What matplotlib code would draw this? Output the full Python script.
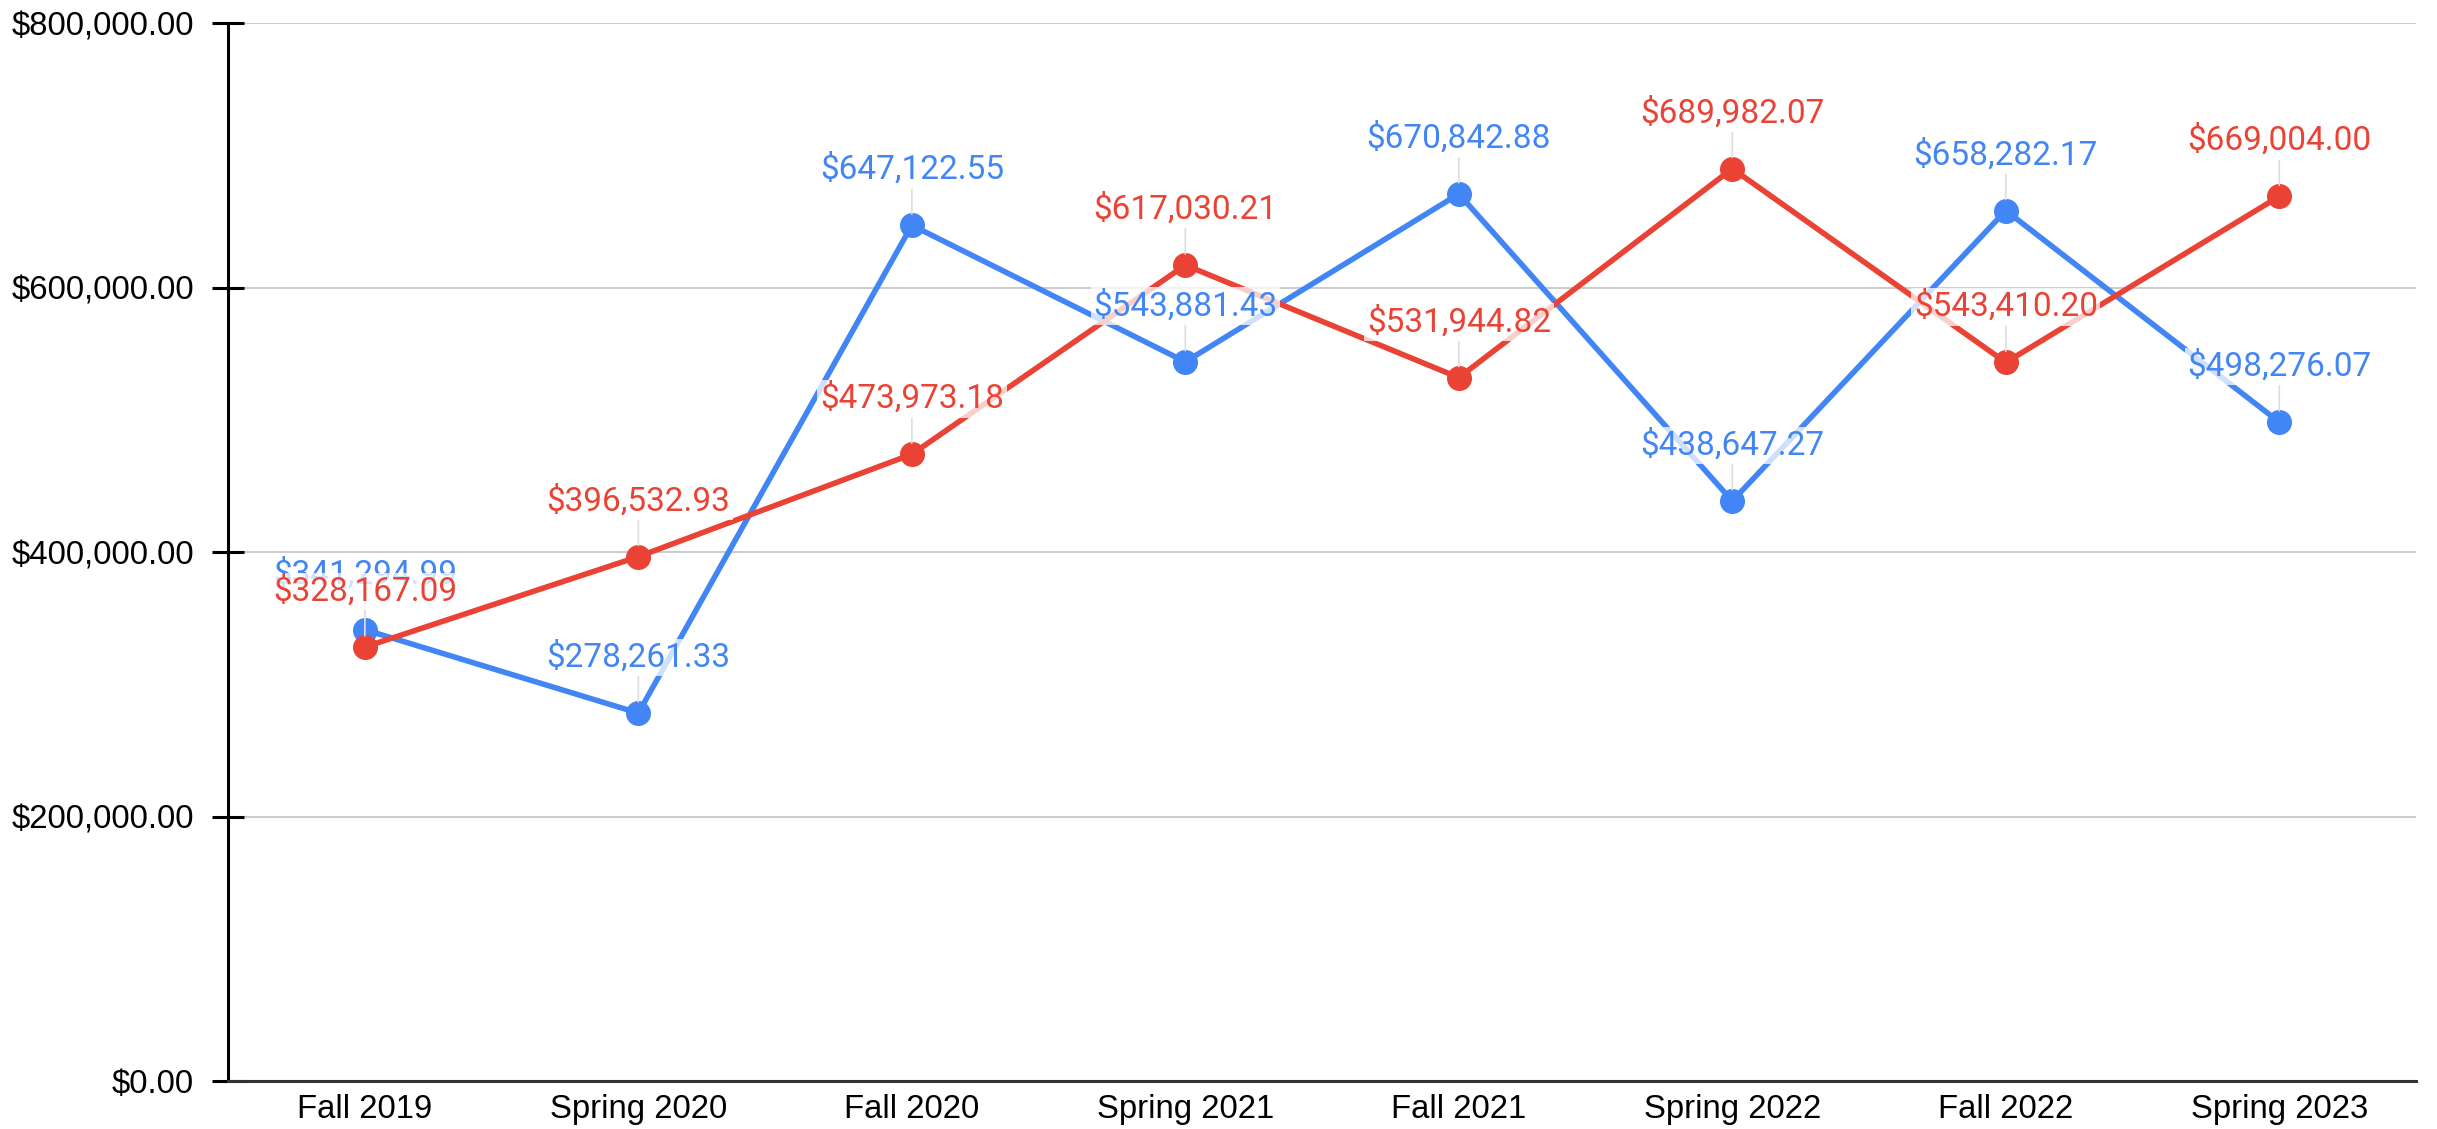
import matplotlib
matplotlib.use("Agg")
from matplotlib import pyplot as plt
from matplotlib.ticker import FuncFormatter

terms = ["Fall 2019", "Spring 2020", "Fall 2020", "Spring 2021",
         "Fall 2021", "Spring 2022", "Fall 2022", "Spring 2023"]
blue_vals = [341294.99, 278261.33, 647122.55, 543881.43,
             670842.88, 438647.27, 658282.17, 498276.07]
red_vals = [328167.09, 396532.93, 473973.18, 617030.21,
            531944.82, 689982.07, 543410.20, 669004.00]
y_ticks = [0, 200000, 400000, 600000, 800000]

BLUE = "#4285F4"
RED = "#EA4335"

fig = plt.figure(figsize=(24.37, 11.29), dpi=100)
ax = fig.add_axes([0.0936, 0.0425, 0.8978, 0.937])

x = list(range(len(terms)))
for vals, color in [(blue_vals, BLUE), (red_vals, RED)]:
    ax.plot(x, vals, color=color, lw=4, marker="o", markersize=17,
            solid_capstyle="round", zorder=3)

for vals, color in [(blue_vals, BLUE), (red_vals, RED)]:
    for i, v in enumerate(vals):
        ax.annotate(f"${v:,.2f}", xy=(i, v), xytext=(0, 40),
                    textcoords="offset points", ha="center", va="center",
                    fontsize=24, family="Roboto", color=color, zorder=5,
                    bbox=dict(boxstyle="square,pad=0.08", fc="white",
                              ec="none", alpha=0.75),
                    arrowprops=dict(arrowstyle="-", color="#dddddd", lw=1.2,
                                    shrinkA=0, shrinkB=8))

ax.set_xlim(-0.5, len(terms) - 0.5)
ax.set_ylim(0, 800000)
ax.set_xticks(x)
ax.set_xticklabels(terms, family="Liberation Sans", fontsize=23.7)
ax.set_yticks(y_ticks)
ax.yaxis.set_major_formatter(FuncFormatter(lambda v, p: f"${v:,.2f}"))
for lab in ax.get_yticklabels():
    lab.set_family("Liberation Sans")
    lab.set_fontsize(23.7)

ax.tick_params(axis="x", length=0, pad=9)
ax.tick_params(axis="y", direction="inout", length=23, width=2.2, pad=13)
ax.grid(axis="y", color="#cccccc", lw=1.5, zorder=0)
ax.set_axisbelow(True)

for side in ["top", "right"]:
    ax.spines[side].set_visible(False)
ax.spines["left"].set_linewidth(2.2)
ax.spines["bottom"].set_linewidth(2.2)
ax.spines["bottom"].set_color("#333333")

fig.savefig("out.png", dpi=100)
